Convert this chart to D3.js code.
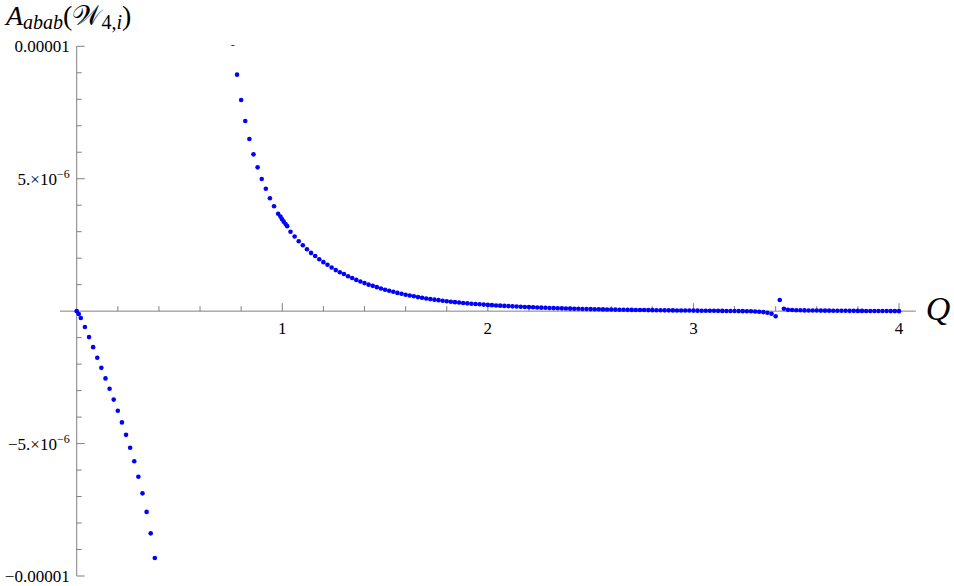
<!DOCTYPE html>
<html>
<head>
<meta charset="utf-8">
<script src="https://cdn.jsdelivr.net/npm/d3@7"></script>
<style>
  body { margin: 0; background: #fff; }
  svg { display: block; }
  text { font-family: "Liberation Serif", "Times New Roman", serif; }
</style>
</head>
<body>
<div id="frame"></div>
<script>
// data (values in units of 1e-6)
const qNeg = [0, 0.01, 0.02, 0.04, 0.06, 0.08, 0.10, 0.12, 0.14, 0.16, 0.18, 0.20,
  0.22, 0.24, 0.26, 0.28, 0.30, 0.32, 0.34, 0.36, 0.38];
const vNeg = [0, -0.11, -0.26, -0.60, -0.98, -1.36, -1.76, -2.14, -2.54, -2.93, -3.34, -3.76,
  -4.20, -4.67, -5.16, -5.67, -6.25, -6.88, -7.58, -8.39, -9.32];

const qPos = [0.76, 0.78, 0.80, 0.82, 0.84, 0.86, 0.88, 0.90, 0.92, 0.94, 0.96, 0.98,
  0.991, 0.999, 1.007, 1.016, 1.024,
  1.04, 1.06, 1.08, 1.10, 1.12, 1.14, 1.16, 1.18, 1.20, 1.22, 1.24, 1.26, 1.28, 1.30,
  1.32, 1.34, 1.36, 1.38, 1.40, 1.42, 1.44, 1.46, 1.48, 1.50, 1.52, 1.54, 1.56, 1.58,
  1.60, 1.62, 1.64, 1.66, 1.68, 1.70, 1.72, 1.74, 1.76, 1.78, 1.80, 1.82, 1.84, 1.86,
  1.88, 1.90, 1.92, 1.94, 1.96, 1.98, 2.00, 2.02, 2.04, 2.06, 2.08, 2.10, 2.12, 2.14,
  2.16, 2.18, 2.20, 2.22, 2.24, 2.26, 2.28, 2.30, 2.32, 2.34, 2.36, 2.38, 2.40, 2.42,
  2.44, 2.46, 2.48, 2.50, 2.52, 2.54, 2.56, 2.58, 2.60, 2.62, 2.64, 2.66, 2.68, 2.70,
  2.72, 2.74, 2.76, 2.78, 2.80, 2.82, 2.84, 2.86, 2.88, 2.90, 2.92, 2.94, 2.96, 2.98,
  3.00, 3.02, 3.04, 3.06, 3.08, 3.10, 3.12, 3.14, 3.16, 3.18, 3.20, 3.22, 3.24, 3.26,
  3.28, 3.30, 3.32, 3.34, 3.36, 3.38, 3.40, 3.42, 3.44, 3.46, 3.48, 3.50, 3.52, 3.54,
  3.56, 3.58, 3.60, 3.62, 3.64, 3.66, 3.68, 3.70, 3.72, 3.74, 3.76, 3.78, 3.80, 3.82,
  3.84, 3.86, 3.88, 3.90, 3.92, 3.94, 3.96, 3.98, 4.00];
const vPos = [10.1, 8.93, 7.97, 7.18, 6.50, 5.92, 5.43, 4.99, 4.62, 4.26, 3.96, 3.68,
  3.57, 3.47, 3.38, 3.29, 3.21,
  3.00, 2.82, 2.64, 2.49, 2.34, 2.20, 2.08, 1.96, 1.85, 1.75, 1.65, 1.55, 1.47, 1.40,
  1.32, 1.25, 1.18, 1.12, 1.06, 1.00, 0.955, 0.906, 0.853, 0.81, 0.77, 0.73, 0.69, 0.655,
  0.62, 0.59, 0.56, 0.53, 0.505, 0.48, 0.455, 0.435, 0.415, 0.395, 0.375, 0.357, 0.34, 0.325,
  0.31, 0.295, 0.282, 0.27, 0.258, 0.247, 0.236, 0.226, 0.216, 0.207, 0.198, 0.19, 0.182, 0.174,
  0.166, 0.159, 0.152, 0.145, 0.139, 0.133, 0.127, 0.121, 0.116, 0.111, 0.106, 0.101, 0.097, 0.092,
  0.088, 0.084, 0.08, 0.077, 0.073, 0.07, 0.067, 0.064, 0.061, 0.058, 0.055, 0.052, 0.05, 0.047,
  0.045, 0.043, 0.041, 0.039, 0.037, 0.035, 0.033, 0.031, 0.03, 0.028, 0.026, 0.025, 0.023, 0.022,
  0.02, 0.019, 0.017, 0.016, 0.014, 0.013, 0.011, 0.01, 0.008, 0.006, 0.004, 0.002, 0.0, -0.003,
  -0.006, -0.015, -0.02, -0.035, -0.06, -0.10, -0.19, 0.42, 0.09, 0.05, 0.042, 0.036, 0.032, 0.029,
  0.027, 0.025, 0.023, 0.021, 0.019, 0.018, 0.016, 0.015, 0.014, 0.013, 0.012, 0.011, 0.01, 0.009,
  0.008, 0.007, 0.006, 0.005, 0.004, 0.003, 0.002, 0.001, 0.0];

// ticks
const xMajor = [1, 2, 3, 4];
const xMinor = [0.2, 0.4, 0.6, 0.8, 1.2, 1.4, 1.6, 1.8, 2.2, 2.4, 2.6, 2.8, 3.2, 3.4, 3.6, 3.8];
const yMajor = [-10, -5, 5, 10];
const yMajorLabels = [["\u22120.00001"], ["\u22125.\u00d710", "\u22126"], ["5.\u00d710", "\u22126"], ["0.00001"]];
const yMinor = [-9, -8, -7, -6, -4, -3, -2, -1, 1, 2, 3, 4, 6, 7, 8, 9];

let width = 954, height = 586;

let svg = d3.select('#frame')
    .append('svg')
    .attr('width', width)
    .attr('height', height);

let x = d3.scaleLinear().domain([0, 4]).range([76.7, 899]);
let y = d3.scaleLinear().domain([-10, 10]).range([576, 46.3]);

const axisColor = '#808080';

//clip for plot range
svg.append('clipPath').attr('id', 'clip')
    .append('rect')
    .attr('x', 0).attr('width', width)
    .attr('y', y(10) - 1.2)
    .attr('height', y(-10) - y(10) + 3);

//x axis line
svg.append('line')
    .attr('x1', x(-0.081)).attr('x2', x(4.082))
    .attr('y1', y(0)).attr('y2', y(0))
    .style('stroke', axisColor).style('stroke-width', 1);

//x ticks (pointing up)
svg.selectAll('.xmaj').data(xMajor).enter().append('line')
    .attr('x1', d => x(d)).attr('x2', d => x(d))
    .attr('y1', y(0)).attr('y2', y(0) - 8)
    .style('stroke', axisColor);
svg.selectAll('.xmin').data(xMinor).enter().append('line')
    .attr('x1', d => x(d)).attr('x2', d => x(d))
    .attr('y1', y(0)).attr('y2', y(0) - 5)
    .style('stroke', axisColor);
svg.selectAll('.xlab').data(xMajor).enter().append('text')
    .attr('x', d => x(d)).attr('y', y(0) + 23)
    .style('text-anchor', 'middle')
    .style('font-size', '17px')
    .text(d => d);

//y axis line
svg.append('line')
    .attr('x1', x(0)).attr('x2', x(0))
    .attr('y1', y(10)).attr('y2', y(-10))
    .style('stroke', axisColor).style('stroke-width', 1);

svg.selectAll('.ymaj').data(yMajor).enter().append('line')
    .attr('x1', x(0)).attr('x2', x(0) + 8)
    .attr('y1', d => y(d)).attr('y2', d => y(d))
    .style('stroke', axisColor);
svg.selectAll('.ymin').data(yMinor).enter().append('line')
    .attr('x1', x(0)).attr('x2', x(0) + 5)
    .attr('y1', d => y(d)).attr('y2', d => y(d))
    .style('stroke', axisColor);

let ylab = svg.selectAll('.ylab').data(yMajor).enter().append('text')
    .attr('x', x(0) - 7).attr('y', d => y(d) + 6)
    .style('text-anchor', 'end')
    .style('font-size', '17px');
ylab.each(function (d, i) {
    let parts = yMajorLabels[i];
    let t = d3.select(this);
    t.append('tspan').text(parts[0]);
    if (parts[1]) {
        t.append('tspan').attr('dy', -7).style('font-size', '12px').text(parts[1]);
    }
});

//points
let pts = qNeg.map((q, i) => ({ q: q, v: vNeg[i] }))
    .concat(qPos.map((q, i) => ({ q: q, v: vPos[i] })));

svg.append('g').attr('clip-path', 'url(#clip)')
    .selectAll('circle')
    .data(pts)
    .enter()
    .append('circle')
    .attr('cx', d => x(d.q))
    .attr('cy', d => y(d.v))
    .attr('r', 2.3)
    .style('fill', '#0000ff');

//axis labels
svg.append('text')
    .attr('x', 938).attr('y', 320)
    .style('text-anchor', 'middle')
    .style('font-size', '34px')
    .style('font-style', 'italic')
    .text('Q');

let yt = svg.append('text')
    .attr('x', 6).attr('y', 25)
    .style('font-size', '28px');
yt.append('tspan').style('font-style', 'italic').text('A');
yt.append('tspan').attr('dy', 4).style('font-style', 'italic').style('font-size', '20px').text('abab');
yt.append('tspan').attr('dy', -4).text('(');
yt.append('tspan').text('\ud835\udcb2');
yt.append('tspan').attr('dy', 4).style('font-size', '20px').text('4,');
yt.append('tspan').style('font-style', 'italic').style('font-size', '20px').text('i');
yt.append('tspan').attr('dy', -4).text(')');
</script>
</body>
</html>
